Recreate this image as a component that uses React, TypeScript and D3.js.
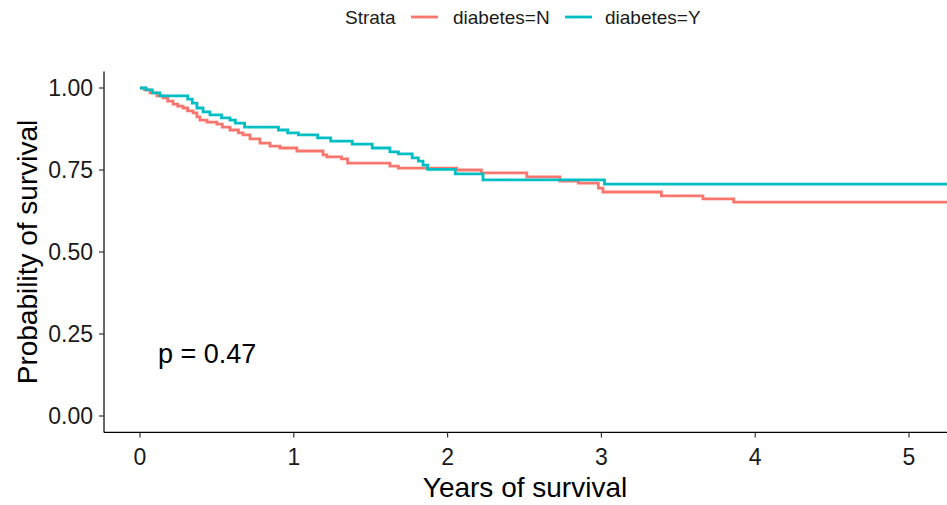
import React from "react";
import * as d3 from "d3";

const timesN = [0, 0.03, 0.065, 0.11, 0.15, 0.18, 0.215, 0.245, 0.28, 0.31, 0.345, 0.37, 0.39, 0.435, 0.5, 0.535, 0.585, 0.64, 0.67, 0.715, 0.78, 0.845, 0.91, 1.02, 1.19, 1.215, 1.31, 1.35, 1.625, 1.68, 2.06, 2.22, 2.515, 2.73, 2.85, 2.98, 3.01, 3.39, 3.66, 3.86, 5.4];
const survN = [1, 0.994, 0.985, 0.976, 0.97, 0.96, 0.951, 0.945, 0.939, 0.93, 0.924, 0.912, 0.902, 0.896, 0.89, 0.881, 0.872, 0.863, 0.857, 0.845, 0.832, 0.823, 0.817, 0.808, 0.796, 0.79, 0.784, 0.771, 0.762, 0.756, 0.75, 0.741, 0.729, 0.716, 0.71, 0.695, 0.683, 0.671, 0.662, 0.652, 0.652];

const timesY = [0, 0.04, 0.08, 0.13, 0.31, 0.34, 0.37, 0.41, 0.455, 0.53, 0.585, 0.62, 0.68, 0.9, 0.96, 1.03, 1.155, 1.24, 1.38, 1.51, 1.625, 1.68, 1.77, 1.81, 1.84, 1.87, 2.05, 2.23, 3.02, 5.4];
const survY = [1, 0.994, 0.985, 0.976, 0.966, 0.954, 0.939, 0.927, 0.918, 0.909, 0.902, 0.893, 0.881, 0.872, 0.863, 0.857, 0.848, 0.838, 0.829, 0.817, 0.805, 0.799, 0.787, 0.777, 0.765, 0.752, 0.738, 0.72, 0.707, 0.707];

const strata = ["diabetes=N", "diabetes=Y"];
const colors = ["#F8766D", "#00BFC4"];
const xTicks = [0, 1, 2, 3, 4, 5];
const yTicks = [0, 0.25, 0.5, 0.75, 1];
const pLabel = "p = 0.47";

const W = 947;
const H = 505;
const FONT = "'Liberation Sans', Arial, sans-serif";

export default function App() {
  const x = d3.scaleLinear().domain([0, 5]).range([140, 909]);
  const y = d3.scaleLinear().domain([0, 1]).range([416, 88]);
  const panelLeft = x(-0.234);
  const panelBottom = y(-0.05);
  const panelTop = y(1.05);

  const line = d3
    .line<[number, number]>()
    .x((d) => x(d[0]))
    .y((d) => y(d[1]))
    .curve(d3.curveStepAfter);

  const series = [
    timesN.map((t, i) => [t, survN[i]] as [number, number]),
    timesY.map((t, i) => [t, survY[i]] as [number, number]),
  ];

  return (
    <svg
      width={W}
      height={H}
      style={{ position: "absolute", left: 0, top: 0, background: "#fff" }}
      fontFamily={FONT}
    >
      <defs>
        <clipPath id="panel">
          <rect x={panelLeft} y={panelTop - 4} width={W - panelLeft} height={panelBottom - panelTop + 4} />
        </clipPath>
      </defs>
      {/* legend */}
      <g fontSize={19} fill="#1a1a1a">
        <text x={345} y={24}>Strata</text>
        <line x1={411} x2={438} y1={17} y2={17} stroke={colors[0]} strokeWidth={2.8} />
        <text x={453} y={24}>{strata[0]}</text>
        <line x1={565} x2={592} y1={17} y2={17} stroke={colors[1]} strokeWidth={2.8} />
        <text x={605} y={24}>{strata[1]}</text>
      </g>
      {/* curves */}
      <g clipPath="url(#panel)">
        {series.map((s, i) => (
          <path key={i} d={line(s) || ""} fill="none" stroke={colors[i]} strokeWidth={2.8} />
        ))}
      </g>
      {/* axes */}
      <line x1={panelLeft} x2={panelLeft} y1={panelTop} y2={panelBottom} stroke="#000" strokeWidth={1.2} />
      <line x1={panelLeft} x2={W} y1={panelBottom} y2={panelBottom} stroke="#000" strokeWidth={1.2} />
      {yTicks.map((t) => (
        <g key={t}>
          <line x1={panelLeft - 5} x2={panelLeft} y1={y(t)} y2={y(t)} stroke="#333" strokeWidth={1.2} />
          <text x={panelLeft - 11} y={y(t)} dy="0.36em" textAnchor="end" fontSize={23} fill="#1a1a1a">
            {t.toFixed(2)}
          </text>
        </g>
      ))}
      {xTicks.map((t) => (
        <g key={t}>
          <line x1={x(t)} x2={x(t)} y1={panelBottom} y2={panelBottom + 5} stroke="#333" strokeWidth={1.2} />
          <text x={x(t)} y={465} textAnchor="middle" fontSize={23} fill="#1a1a1a">
            {t}
          </text>
        </g>
      ))}
      <text x={525} y={497} textAnchor="middle" fontSize={28} fill="#000">
        Years of survival
      </text>
      <text
        transform={`translate(37, ${(panelTop + panelBottom) / 2}) rotate(-90)`}
        textAnchor="middle"
        fontSize={28}
        fill="#000"
      >
        Probability of survival
      </text>
      <text x={x(0.117)} y={y(0.162)} fontSize={27} fill="#000">
        {pLabel}
      </text>
    </svg>
  );
}
